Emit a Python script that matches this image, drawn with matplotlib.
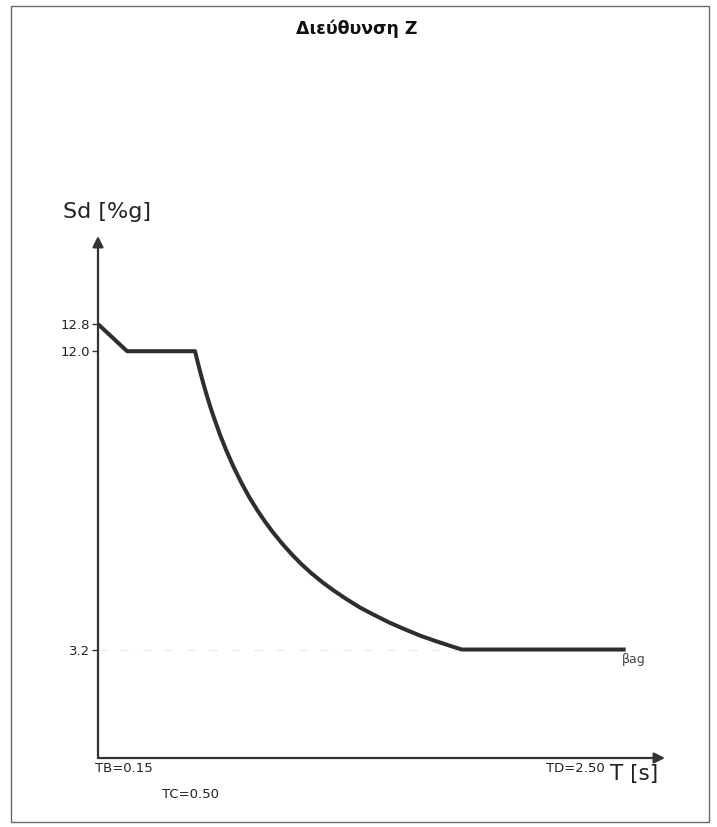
import matplotlib
matplotlib.use("Agg")
import matplotlib.pyplot as plt
from matplotlib.patches import Rectangle

# ---- data ----
T_values = [0.0, 0.15, 0.50, 0.52, 0.54, 0.56, 0.58, 0.60, 0.63, 0.66,
            0.70, 0.74, 0.78, 0.82, 0.86, 0.90, 0.95, 1.00, 1.05, 1.10,
            1.16, 1.22, 1.28, 1.35, 1.42, 1.50, 1.58, 1.66, 1.74, 1.82,
            1.875, 2.72]
Sd_values = [12.8, 12.0, 12.0, 11.54, 11.11, 10.71, 10.34, 10.0, 9.52, 9.09,
             8.57, 8.11, 7.69, 7.32, 6.98, 6.67, 6.32, 6.0, 5.71, 5.45,
             5.17, 4.92, 4.69, 4.44, 4.23, 4.0, 3.80, 3.61, 3.45, 3.30,
             3.2, 3.2]
ytick_values = [3.2, 12.0, 12.8]
ytick_labels = ["3.2", "12.0", "12.8"]
period_labels = ["TB=0.15", "TC=0.50", "TD=2.50"]
title = "Διεύθυνση Z"
floor_label = "βag"

W, H = 717, 827
fig = plt.figure(figsize=(W / 100, H / 100), dpi=100)
fig.patch.set_facecolor("white")


def fx(px):
    return px / W


def fy(py):
    return 1 - py / H


# outer frame
fig.patches.append(Rectangle((fx(11), fy(822)), (709 - 11) / W, (822 - 6) / H,
                             transform=fig.transFigure, fill=False,
                             edgecolor="#6a6a6a", lw=1.0))

x0, x1, y0, y1 = 98, 665, 758, 236
ax = fig.add_axes([fx(x0), fy(y0), (x1 - x0) / W, (y0 - y1) / H])
ax.set_xlim(0, (x1 - x0) / 194.0)
ax.set_ylim(0, (y0 - y1) / 33.9)
for s in ax.spines.values():
    s.set_visible(False)
ax.patch.set_alpha(0)

# faint grid ghost at the floor level
ax.plot([0, 1.875], [3.2, 3.2], color="#ececec", lw=1, ls=(0, (6, 10)))

# spectrum curve
ax.plot(T_values, Sd_values, color="#2e2e2e", lw=2.9, solid_joinstyle="round",
        solid_capstyle="butt")

# axes with arrows
arrow_kw = dict(arrowstyle="-|>", color="#333333", lw=1.6, mutation_scale=16,
                shrinkA=0, shrinkB=0)
ax.annotate("", xy=(0, 1.0), xytext=(0, 0), xycoords="axes fraction",
            arrowprops=arrow_kw, annotation_clip=False)
ax.annotate("", xy=(1.0, 0), xytext=(0, 0), xycoords="axes fraction",
            arrowprops=arrow_kw, annotation_clip=False)

ax.set_xticks([])
ax.set_yticks(ytick_values)
ax.set_yticklabels(ytick_labels)
ax.tick_params(axis="y", length=4, width=1, pad=2, labelsize=9.5,
               color="#333333", labelcolor="#222222")

# texts
fig.text(fx(357), fy(29), title, ha="center", va="center", fontsize=12.5,
         fontweight="bold", color="#111111")
fig.text(fx(107), fy(212), "Sd [%g]", ha="center", va="center", fontsize=16,
         color="#222222")
fig.text(fx(634), fy(774), "T [s]", ha="center", va="center", fontsize=15.5,
         color="#222222")
fig.text(fx(95), fy(768), period_labels[0], ha="left", va="center",
         fontsize=9.5, color="#222222")
fig.text(fx(162), fy(794), period_labels[1], ha="left", va="center",
         fontsize=9.5, color="#222222")
fig.text(fx(605), fy(768), period_labels[2], ha="right", va="center",
         fontsize=9.5, color="#222222")
fig.text(fx(622), fy(660), floor_label, ha="left", va="center",
         fontsize=9, color="#444444")

fig.savefig("out.png", dpi=100, facecolor="white")
